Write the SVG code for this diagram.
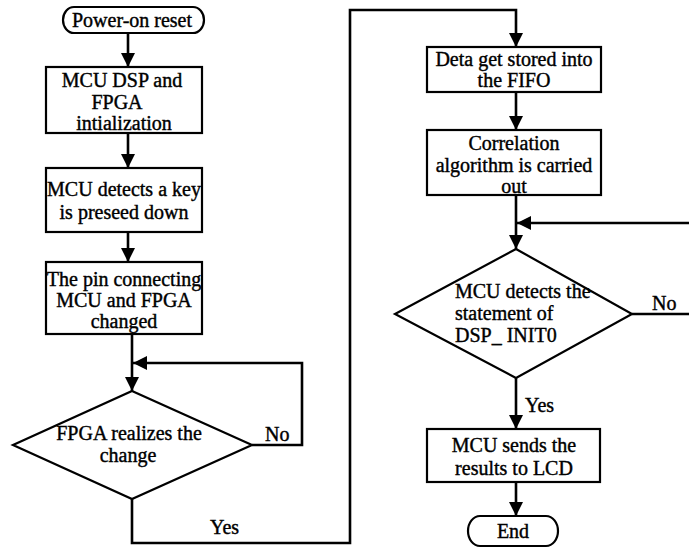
<svg xmlns="http://www.w3.org/2000/svg" width="689" height="552" viewBox="0 0 689 552">
<style>
.shape{fill:#fff;stroke:#000;stroke-width:2.2}
.line{fill:none;stroke:#000;stroke-width:2.6}
text{font-family:"Liberation Serif","Times New Roman",serif;font-size:20px;fill:#000;stroke:#000;stroke-width:0.4}
.c{text-anchor:middle}
</style>
<defs>
<marker id="ah" viewBox="0 0 14 14" refX="14" refY="7" markerWidth="14" markerHeight="14" markerUnits="userSpaceOnUse" orient="auto">
<path d="M0,0 L14,7 L0,14 z" fill="#000"/>
</marker>
</defs>
<g id="connectors">
<line class="line" x1="128" y1="33" x2="128" y2="67" marker-end="url(#ah)"/>
<line class="line" x1="128" y1="133" x2="128" y2="168" marker-end="url(#ah)"/>
<line class="line" x1="128" y1="232" x2="128" y2="262" marker-end="url(#ah)"/>
<line class="line" x1="132" y1="334" x2="132" y2="391" marker-end="url(#ah)"/>
<polyline class="line" points="252,445 302,445 302,363 133,363" marker-end="url(#ah)"/>
<polyline class="line" points="132,499 132,543 350,543 350,10 516,10 516,47" marker-end="url(#ah)"/>
<line class="line" x1="516" y1="92" x2="516" y2="130" marker-end="url(#ah)"/>
<line class="line" x1="516" y1="195" x2="516" y2="249" marker-end="url(#ah)"/>
<line class="line" x1="689" y1="223" x2="517" y2="223" marker-end="url(#ah)"/>
<line class="line" x1="632" y1="314" x2="689" y2="314"/>
<line class="line" x1="516" y1="378" x2="516" y2="429" marker-end="url(#ah)"/>
<line class="line" x1="516" y1="482" x2="516" y2="516" marker-end="url(#ah)"/>
<text x="265" y="441">No</text>
<text x="210" y="534">Yes</text>
<text x="652" y="310">No</text>
<text x="525" y="412">Yes</text>
</g>
<g id="start">
<rect class="shape" x="63" y="7" width="141" height="26" rx="11" ry="13"/>
<text class="c" x="132" y="27">Power-on reset</text>
</g>
<g id="init">
<rect class="shape" x="46" y="67" width="156" height="66"/>
<text class="c" x="122" y="87">MCU DSP and</text>
<text class="c" x="117" y="108.5">FPGA</text>
<text class="c" x="124" y="130">intialization</text>
</g>
<g id="keydetect">
<rect class="shape" x="46" y="168" width="156" height="64"/>
<text class="c" x="124" y="196">MCU detects a key</text>
<text class="c" x="124" y="219">is preseed down</text>
</g>
<g id="pinchange">
<rect class="shape" x="46" y="262" width="156" height="72"/>
<text class="c" x="124" y="286">The pin connecting</text>
<text class="c" x="124" y="307">MCU and FPGA</text>
<text class="c" x="124" y="328">changed</text>
</g>
<g id="fpgadecision">
<polygon class="shape" points="132,391 252,445 132,499 13,445"/>
<text class="c" x="129" y="440">FPGA realizes the</text>
<text class="c" x="128" y="462">change</text>
</g>
<g id="fifo">
<rect class="shape" x="427" y="47" width="174" height="45"/>
<text class="c" x="514" y="66">Deta get stored into</text>
<text class="c" x="514" y="87">the FIFO</text>
</g>
<g id="correlation">
<rect class="shape" x="427" y="130" width="174" height="65"/>
<text class="c" x="514" y="150">Correlation</text>
<text class="c" x="514" y="172">algorithm is carried</text>
<text class="c" x="514" y="193">out</text>
</g>
<g id="dspdecision">
<polygon class="shape" points="516,249 632,314 516,378 395,314"/>
<text x="455" y="298">MCU detects the</text>
<text x="455" y="320">statement of</text>
<text x="455" y="342">DSP_ INIT0</text>
</g>
<g id="sendlcd">
<rect class="shape" x="427" y="429" width="173" height="53"/>
<text class="c" x="514" y="452">MCU sends the</text>
<text class="c" x="514" y="475">results to LCD</text>
</g>
<g id="end">
<rect class="shape" x="468" y="516" width="90" height="30" rx="12" ry="15"/>
<text class="c" x="513" y="538">End</text>
</g>
</svg>
